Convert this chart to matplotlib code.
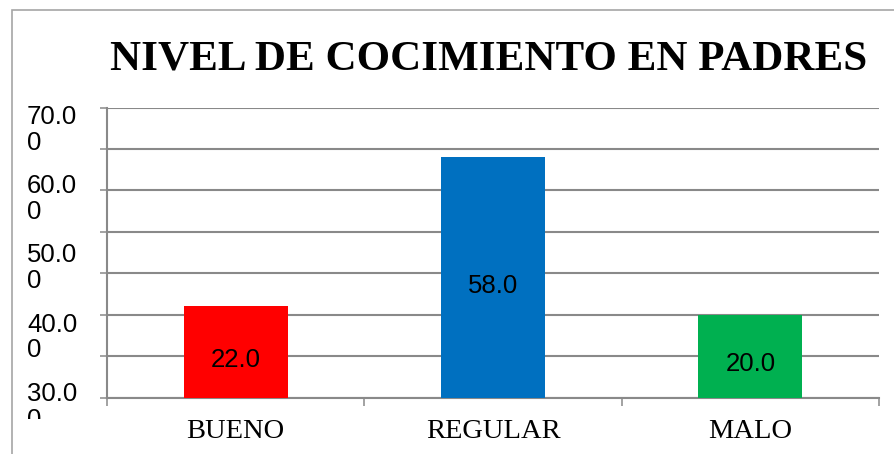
import matplotlib
matplotlib.use("Agg")
import matplotlib.pyplot as plt
from matplotlib.patches import Rectangle
from matplotlib.transforms import Bbox, TransformedBbox

# data
categories = ["BUENO", "REGULAR", "MALO"]
values = [22.0, 58.0, 20.0]
bar_colors = ["#FF0000", "#0070C0", "#00B050"]
grid_ticks = [0, 10, 20, 30, 40, 50, 60, 70]
# the y labels as the original renders them (wrapped "70.00" etc.)
ylabel_texts = ["70.0\n0", "60.0\n0", "50.0\n0", "40.0\n0", "30.0\n0"]
title = "NIVEL DE COCIMIENTO EN PADRES"

W, H = 894, 454
grey = "#898989"

fig = plt.figure(figsize=(W / 100, H / 100), dpi=100)
ax = fig.add_axes([107 / W, 1 - 397.5 / H, (879 - 107) / W, (397.5 - 107.5) / H])

x = list(range(len(categories)))
ax.bar(x, values, width=0.404, color=bar_colors, zorder=3)
for xi, v in zip(x, values):
    ax.annotate(f"{v:.1f}", (xi, v / 2), xytext=(0, -6), textcoords="offset points",
                ha="center", va="center", fontsize=18.5, family="Liberation Sans", zorder=4)

ax.set_xlim(-0.5, 2.5)
ax.set_ylim(0, 70)

# gridlines and y ticks
ax.set_yticks(grid_ticks)
ax.set_yticklabels([])
ax.yaxis.grid(True, color=grey, linewidth=1.5, zorder=0)
ax.tick_params(axis="y", direction="out", length=5.2, width=1.1, color=grey)

# category boundaries as major ticks, labels on minor ticks
ax.set_xticks([-0.5, 0.5, 1.5, 2.5])
ax.set_xticklabels([])
ax.set_xticks(x, minor=True)
ax.set_xticklabels(categories, minor=True, family="Liberation Serif", fontsize=20.5)
ax.tick_params(axis="x", which="major", direction="out", length=5.5, width=1.1, color=grey)
ax.tick_params(axis="x", which="minor", length=0, pad=15.5)

for side in ["top", "right"]:
    ax.spines[side].set_visible(False)
for side in ["left", "bottom"]:
    ax.spines[side].set_color(grey)
    ax.spines[side].set_linewidth(1.5)

# wrapped y labels, last one clipped like the reference
clip = TransformedBbox(Bbox([[0, 1 - 419 / H], [1, 1]]), fig.transFigure)
label_top = 105
for i, lab in enumerate(ylabel_texts):
    t = fig.text(27 / W, 1 - (label_top + 69.25 * i) / H, lab, ha="left", va="top",
                 fontsize=18.5, family="Liberation Sans", linespacing=1.08)
    t.set_clip_box(clip)
    t.set_clip_on(True)

fig.text(489 / W, 1 - 60 / H, title, ha="center", va="center", fontsize=31,
         fontweight="bold", family="Liberation Serif")

# chart area border
fig.add_artist(Rectangle((11.5 / W, -0.1), 1.2, 1.1 - 10.5 / H, transform=fig.transFigure,
                         fill=False, edgecolor="#A6A6A6", linewidth=1.2))

fig.savefig("out.png", dpi=100)
